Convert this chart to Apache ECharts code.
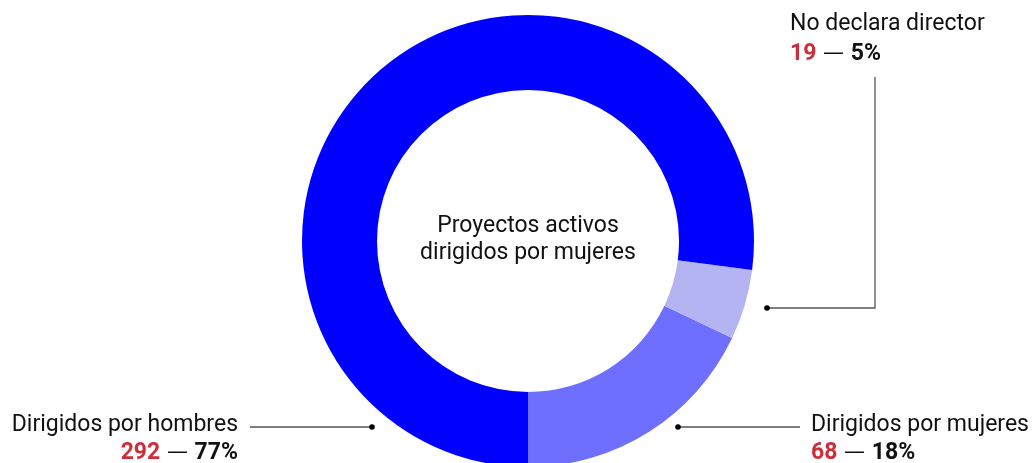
<!DOCTYPE html>
<html>
<head>
<meta charset="utf-8">
<script src="https://cdn.jsdelivr.net/npm/echarts@6/dist/echarts.min.js"></script>
<style>
html,body{margin:0;padding:0;background:#fff;}
#c{width:1032px;height:463px;}
</style>
</head>
<body>
<div id="c"></div>
<script>
const categories = ['Dirigidos por mujeres', 'No declara director', 'Dirigidos por hombres'];
const values = [68, 19, 292];
const percents = [18, 5, 77];
const colors = ['#6F6FFF', '#B4B4F2', '#0000FF'];
const centerTitle = 'Proyectos activos\ndirigidos por mujeres';

const FONT = 'Roboto, "Noto Sans", sans-serif';
const FS = 23;
const chart = echarts.init(document.getElementById('c'));

function secondLine(i) {
  return '{v|' + values[i] + '}{d| — }{p|' + percents[i] + '%}';
}
const rich = {
  v: {fontFamily: FONT, fontSize: FS, fontWeight: 'bold', fill: '#CC2E3C'},
  d: {fontFamily: '"DejaVu Sans", sans-serif', fontSize: 21, fill: '#111'},
  p: {fontFamily: FONT, fontSize: FS, fontWeight: 'bold', fill: '#111'}
};
const lineStyle = {stroke: '#555', lineWidth: 1.3};

chart.setOption({
  animation: false,
  series: [{
    type: 'pie',
    center: [528, 241],
    radius: [151, 226],
    startAngle: 270,
    clockwise: false,
    label: {show: false},
    labelLine: {show: false},
    emphasis: {disabled: true},
    data: categories.map((c, i) => ({name: c, value: values[i], itemStyle: {color: colors[i]}}))
  }],
  graphic: [
    {type: 'text', style: {text: centerTitle, x: 528, y: 240, align: 'center', verticalAlign: 'middle', fontFamily: FONT, fontSize: FS, lineHeight: 27, fill: '#111'}},
    // No declara director
    {type: 'text', style: {text: categories[1], x: 790, y: 24, verticalAlign: 'middle', fontFamily: FONT, fontSize: FS, fill: '#111'}},
    {type: 'text', style: {text: secondLine(1), x: 790, y: 54, verticalAlign: 'middle', rich: rich}},
    {type: 'polyline', shape: {points: [[767, 308], [875, 308], [875, 77]]}, style: lineStyle},
    {type: 'circle', shape: {cx: 767, cy: 308, r: 2.8}, style: {fill: '#000'}},
    // hombres
    {type: 'text', style: {text: categories[2], x: 238, y: 425, align: 'right', verticalAlign: 'middle', fontFamily: FONT, fontSize: FS, fill: '#111'}},
    {type: 'text', style: {text: secondLine(2), x: 238, y: 453, align: 'right', verticalAlign: 'middle', rich: rich}},
    {type: 'polyline', shape: {points: [[250, 427], [372, 427]]}, style: lineStyle},
    {type: 'circle', shape: {cx: 372, cy: 427, r: 2.8}, style: {fill: '#000'}},
    // mujeres
    {type: 'text', style: {text: categories[0], x: 811, y: 425, verticalAlign: 'middle', fontFamily: FONT, fontSize: FS, fill: '#111'}},
    {type: 'text', style: {text: secondLine(0), x: 811, y: 453, verticalAlign: 'middle', rich: rich}},
    {type: 'polyline', shape: {points: [[678, 427], [800, 427]]}, style: lineStyle},
    {type: 'circle', shape: {cx: 678, cy: 427, r: 2.8}, style: {fill: '#000'}}
  ]
});
</script>
</body>
</html>
